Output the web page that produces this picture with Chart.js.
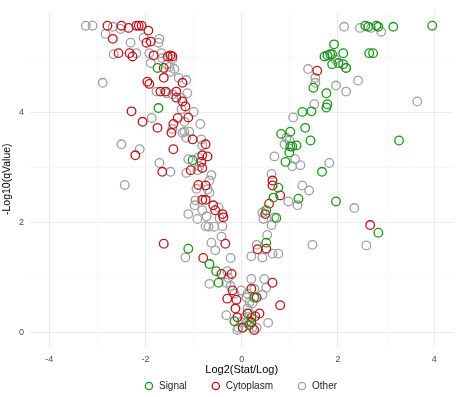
<!DOCTYPE html>
<html><head><meta charset="utf-8">
<script src="https://cdn.jsdelivr.net/npm/chart.js@4.4.1/dist/chart.umd.min.js"></script>
<style>html,body{margin:0;padding:0;background:#fff;}#wrap{width:459px;height:397px;position:relative;}</style>
</head><body><div id="wrap"><canvas id="c" width="459" height="397"></canvas></div>
<script>
const seriesNames = ["Signal", "Cytoplasm", "Other"];
const xTickValues = [-4, -3, -2, -1, 0, 1, 2, 3, 4];
const yTickValues = [0, 1, 2, 3, 4, 5];

const signalX = [-1.75,-1.73,-1.02,-1.11,-0.67,-0.53,-0.48,-0.15,0.26,0.20,0.16,0.51,
 1.32,0.82,1.01,1.01,1.05,1.14,1.43,0.99,0.91,1.67,0.76,0.66,1.18,1.96,0.51,0.72,2.84,3.27,
 2.57,2.63,2.80,2.84,3.15,3.96,1.92,2.11,1.72,1.78,1.84,1.88,1.88,2.01,2.11,2.17,2.65,2.73,1.49,1.76,1.78,1.76,1.26,1.45];
const signalY = [4.81,4.08,3.13,1.52,1.24,1.11,0.90,0.20,0.63,0.26,0.13,1.63,
 3.72,3.61,3.65,3.38,3.38,3.40,3.49,3.27,3.10,2.92,2.63,2.45,2.43,2.38,2.22,2.08,1.81,3.49,
 5.58,5.56,5.58,5.56,5.56,5.58,5.24,5.08,5.02,5.04,5.06,5.06,4.88,4.90,4.88,4.81,5.08,5.08,4.45,4.35,4.15,4.09,4.01,4.02];

const cytoX = [-2.79,-2.50,-2.35,-2.19,-2.14,-2.08,-1.94,-2.68,-1.98,-1.89,-2.56,-2.33,-2.27,-1.83,-1.54,-1.48,-1.44,
 -1.62,-1.62,-1.23,-1.96,-1.92,-1.69,-1.58,-1.36,-1.36,-1.23,-1.17,-2.29,
 -2.06,-1.75,-1.46,-1.42,-1.33,-1.11,-1.02,-0.75,-2.21,-1.42,-1.65,-0.82,-0.71,-0.84,-0.82,-1.06,-0.90,-0.75,
 -0.82,-0.75,-0.59,-0.55,-0.40,-0.38,-1.62,
 -0.34,-0.80,-0.42,-0.21,-0.19,-0.30,-0.11,-0.13,-0.09,0.20,0.31,0.37,0.20,0.26,0.80,0.64,0.33,0.51,0.12,0.28,0.02,
 0.64,0.64,0.80,0.57,0.49,2.67,1.57];
const cytoY = [5.58,5.58,5.54,5.58,5.58,5.58,5.49,5.34,5.27,5.29,5.08,5.08,5.02,5.04,5.02,5.04,5.02,
 4.81,4.63,4.54,4.56,4.52,4.38,4.38,4.38,4.27,4.20,4.11,4.02,
 3.83,3.72,3.63,3.79,3.90,3.91,3.51,3.42,3.22,3.33,2.92,3.22,3.20,3.10,2.99,2.95,2.68,2.67,
 2.41,2.41,2.31,2.22,2.15,2.09,1.61,
 1.61,1.35,1.06,1.06,0.76,0.61,0.59,0.43,0.27,0.79,0.63,0.34,0.18,0.04,0.49,0.90,1.51,1.52,0.34,0.29,0.08,
 2.76,2.67,2.49,2.34,2.15,1.95,4.76];

const otherX = [-3.24,-3.10,-2.68,-2.52,-2.83,-2.04,-1.71,-1.73,-2.31,-2.66,-2.19,-1.92,-1.67,-1.65,-1.44,-1.89,-1.56,-1.50,-1.40,-1.48,-1.31,-1.15,-2.89,-1.77,-1.56,-1.44,-1.13,-1.25,-1.25,-1.00,
 -1.87,-1.19,-1.44,-1.23,-1.19,-1.15,-1.09,-0.86,-0.84,-0.82,-2.50,-2.12,-1.71,-1.48,-1.11,-0.90,-0.88,-1.15,-0.92,-0.63,-0.67,-2.43,-0.94,-0.67,-0.71,
 -0.96,-0.98,-0.82,-0.48,-1.11,-0.92,-0.73,-0.46,
 -0.75,-0.69,-0.57,-0.40,-0.42,-0.63,-0.55,-1.17,-0.23,-0.30,-0.28,-0.67,-0.32,-0.23,-0.15,-0.01,-0.32,-0.01,-0.07,0.02,0.10,0.06,0.16,0.12,0.16,0.10,0.20,0.12,0.22,0.22,0.55,0.47,0.51,0.26,0.43,0.53,0.31,0.20,0.64,0.76,0.43,-0.09,0.31,
 1.47,2.59,
 0.93,0.99,0.89,0.68,1.11,1.05,1.22,1.82,0.62,1.26,1.40,0.97,1.16,2.34,0.43,0.45,0.62,0.68,1.07,
 2.13,2.46,2.69,2.90,1.94,2.17,1.38,1.53,1.53,1.96,2.42,2.17,1.51,3.65];
const otherY = [5.58,5.58,5.56,5.52,5.43,5.36,5.34,5.27,5.27,5.06,5.08,5.08,5.08,4.99,4.97,4.90,4.88,4.83,4.79,4.74,4.63,4.59,4.54,4.38,4.35,4.33,4.35,4.26,4.06,4.01,
 3.90,3.83,3.70,3.63,3.65,3.54,3.65,3.79,3.51,3.40,3.42,3.33,3.08,2.92,3.15,3.18,3.02,2.90,2.95,2.86,2.76,2.68,2.61,2.54,2.60,
 2.40,2.31,2.22,2.27,2.15,2.06,2.11,2.08,
 1.93,1.92,1.92,1.93,1.74,1.63,1.49,1.36,1.35,1.11,0.99,0.88,0.90,0.84,0.70,0.76,0.31,0.18,0.08,0.09,0.17,0.26,0.34,0.43,0.54,0.63,0.97,0.70,0.52,0.08,0.17,0.97,0.81,0.79,0.68,1.77,1.59,1.38,1.43,1.43,1.36,0.04,0.08,
 1.59,1.58,
 3.54,3.49,3.42,3.20,3.15,3.02,3.04,3.08,2.88,2.67,2.58,2.38,2.31,2.26,2.18,2.06,1.95,2.09,3.91,
 5.56,5.54,5.54,5.47,4.97,4.81,4.79,4.63,4.54,4.49,4.58,4.38,4.15,4.20];

const colors = ["#179617", "#c0121a", "#a0a0a0"];
const toPts = (xs, ys) => xs.map((x, i) => ({x: x, y: ys[i]}));
const seriesData = [toPts(signalX, signalY), toPts(cytoX, cytoY), toPts(otherX, otherY)];

const FONT = "'Liberation Sans', Arial, sans-serif";
const datasets = seriesNames.map((n, i) => ({
  label: n,
  data: seriesData[i],
  borderColor: colors[i],
  backgroundColor: 'rgba(0,0,0,0)',
  pointRadius: 4.3,
  pointBorderWidth: 1.3,
  pointStyle: 'circle',
  showLine: false
}));

const legendPlace = {
  id: 'legendPlace',
  afterLayout(chart) {
    const lg = chart.legend;
    if (!lg) return;
    lg.left += 13; lg.right += 13;
    lg.top = 357; lg.bottom = 397;
    lg.height = 40;
  }
};

const gridColor = c => (c.tick && c.tick.value % 2 === 0) ? '#ebebeb' : '#f3f3f3';
const gridWidth = c => (c.tick && c.tick.value % 2 === 0) ? 1.1 : 0.7;

new Chart(document.getElementById('c'), {
  type: 'scatter',
  data: { datasets },
  plugins: [legendPlace],
  options: {
    responsive: false,
    animation: false,
    layout: { padding: { left: 0, right: 4, top: 5, bottom: 0 } },
    plugins: {
      tooltip: { enabled: false },
      legend: {
        position: 'bottom',
        maxHeight: 20,
        labels: {
          usePointStyle: true,
          boxWidth: 10, boxHeight: 5.1,
          padding: 24,
          color: '#1a1a1a',
          font: { family: FONT, size: 10 }
        }
      }
    },
    scales: {
      x: {
        type: 'linear', min: -4.4, max: 4.4,
        afterBuildTicks: s => { s.ticks = xTickValues.map(v => ({ value: v })); },
        afterFit: s => { s.height = 30; },
        border: { display: false },
        grid: { drawTicks: false, color: gridColor, lineWidth: gridWidth },
        ticks: {
          padding: 7,
          color: '#4d4d4d',
          font: { family: FONT, size: 9 },
          callback: v => (v % 2 === 0 ? String(v) : '')
        },
        title: { display: true, text: 'Log2(Stat/Log)', color: '#000', font: { family: FONT, size: 11 }, padding: { top: 0, bottom: 0 } }
      },
      y: {
        type: 'linear', min: -0.27, max: 5.84,
        afterBuildTicks: s => { s.ticks = yTickValues.map(v => ({ value: v })); },
        afterFit: s => { s.width = 30; },
        border: { display: false },
        grid: { drawTicks: false, color: gridColor, lineWidth: gridWidth },
        ticks: {
          padding: 6,
          color: '#4d4d4d',
          font: { family: FONT, size: 9 },
          callback: v => (v % 2 === 0 ? String(v) : '')
        },
        title: { display: true, text: '-Log10(qValue)', color: '#000', font: { family: FONT, size: 10.5 }, padding: { top: 1, bottom: 0 } }
      }
    }
  }
});
</script></body></html>
